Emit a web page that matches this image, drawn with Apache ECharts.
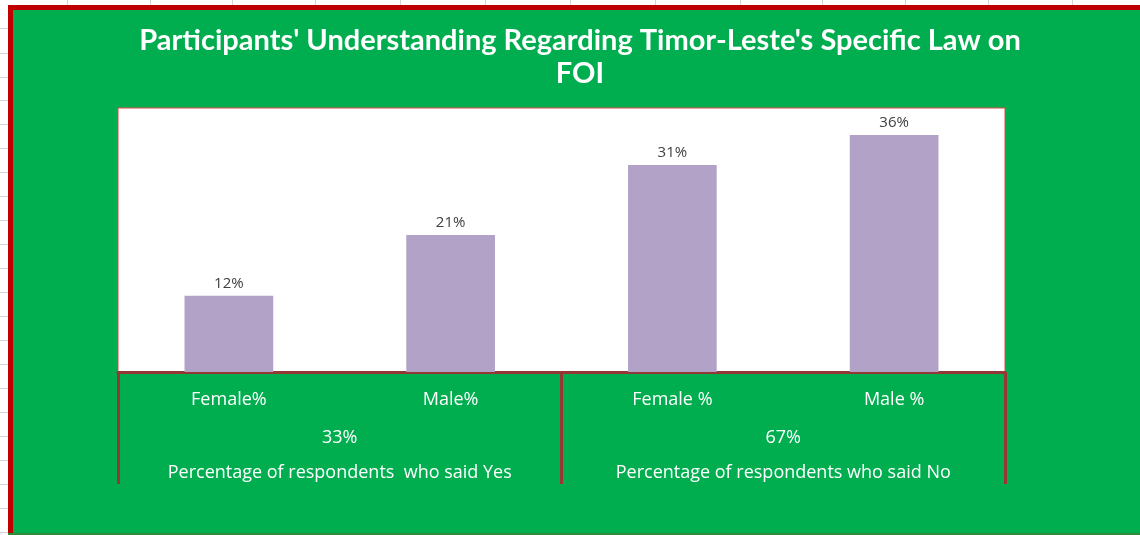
<!DOCTYPE html>
<html>
<head>
<meta charset="utf-8">
<script src="https://cdn.jsdelivr.net/npm/echarts@6/dist/echarts.min.js"></script>
<style>html,body{margin:0;padding:0;background:#fff}#c{width:1140px;height:535px}</style>
</head>
<body>
<div id="c"></div>
<script>
const categories = ['Female%', 'Male%', 'Female %', 'Male %'];
const values = [0.1155, 0.2076, 0.3136, 0.359];
const groupTotals = ['33%', '67%'];
const groupNames = ['Percentage of respondents  who said Yes', 'Percentage of respondents who said No'];
const titleText = "Participants' Understanding Regarding Timor-Leste's Specific Law on\nFOI";

const FONT = 'Lato, "Open Sans", sans-serif';
const FONT2 = '"Open Sans", Lato, sans-serif';
const DARKRED = '#953735';

const chart = echarts.init(document.getElementById('c'), null, {renderer: 'canvas'});

// decorative spreadsheet grid lines and green chart-area frame
const sheetLines = [];
[67, 150, 232, 315, 400, 485, 570, 655, 740, 822, 905, 988, 1072].forEach(x => {
  sheetLines.push({type: 'line', shape: {x1: x + 0.5, y1: 0, x2: x + 0.5, y2: 6}, style: {stroke: '#d4d4d4', lineWidth: 1}, z: -20});
});
[28, 53, 77, 100, 124, 148, 172, 196, 220, 244, 268, 292, 316, 340, 364, 388, 412, 436, 460, 484, 508, 532].forEach(y => {
  sheetLines.push({type: 'line', shape: {x1: 0, y1: y + 0.5, x2: 8, y2: y + 0.5}, style: {stroke: '#d4d4d4', lineWidth: 1}, z: -20});
});

chart.setOption({
  backgroundColor: '#ffffff',
  animation: false,
  graphic: [
    ...sheetLines,
    {type: 'rect', shape: {x: 8, y: 5, width: 1132, height: 530}, style: {fill: '#00ae4f'}, z: -15},
    {type: 'rect', shape: {x: 8, y: 5, width: 1132, height: 5}, style: {fill: '#c00000'}, z: -14},
    {type: 'rect', shape: {x: 8, y: 5, width: 5, height: 530}, style: {fill: '#c00000'}, z: -14},
    {type: 'rect', shape: {x: 8, y: 533, width: 1132, height: 2}, style: {fill: '#2f8a3a'}, z: -14}
  ],
  title: {
    text: titleText,
    left: 580,
    top: 24,
    padding: 0,
    textAlign: 'center',
    textStyle: {color: '#ffffff', fontFamily: FONT, fontWeight: 'bold', fontSize: 29, lineHeight: 33}
  },
  grid: {
    left: 118, right: 135, top: 108, bottom: 163,
    show: true, backgroundColor: '#ffffff', borderColor: '#e04a4a', borderWidth: 1,
    containLabel: false
  },
  xAxis: [
    {
      type: 'category', data: categories, position: 'bottom',
      axisLine: {show: true, lineStyle: {color: DARKRED, width: 3}},
      axisTick: {show: false},
      axisLabel: {interval: 0, hideOverlap: false, color: '#ffffff', fontFamily: FONT2, fontSize: 18, margin: 19}
    },
    {
      type: 'category', data: groupTotals, position: 'bottom',
      axisLine: {show: false},
      axisTick: {show: true, interval: 0, length: 112, lineStyle: {color: DARKRED, width: 3}},
      axisLabel: {interval: 0, hideOverlap: false, color: '#ffffff', fontFamily: FONT2, fontSize: 18, margin: 57}
    },
    {
      type: 'category', data: groupNames, position: 'bottom',
      axisLine: {show: false},
      axisTick: {show: false},
      axisLabel: {interval: 0, hideOverlap: false, color: '#ffffff', fontFamily: FONT2, fontSize: 18, margin: 92}
    }
  ],
  yAxis: {
    type: 'value', min: 0, max: 0.40, show: false,
    splitLine: {show: false}
  },
  series: [{
    type: 'bar',
    data: values,
    barWidth: '40%',
    itemStyle: {color: '#b3a2c7'},
    label: {
      show: true, position: 'top', distance: 4,
      formatter: p => Math.round(p.value * 100) + '%',
      color: '#404040', fontFamily: FONT2, fontSize: 15,
      backgroundColor: '#ffffff', padding: [1, 6]
    }
  }]
});
</script>
</body>
</html>
